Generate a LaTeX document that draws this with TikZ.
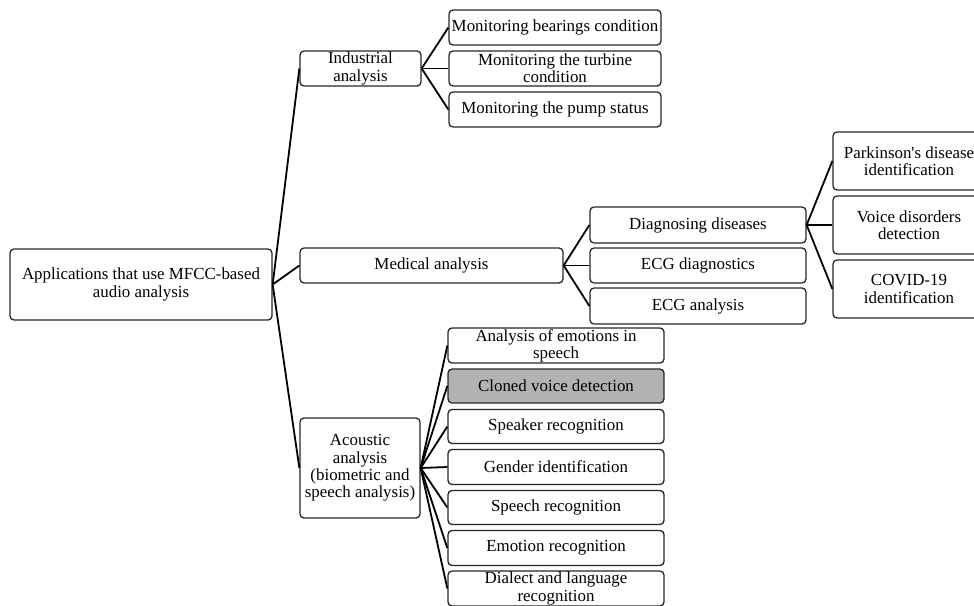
\documentclass[tikz,border=0pt]{standalone}
\usepackage{fontspec}
\setmainfont{Liberation Serif}
\begin{document}
\begin{tikzpicture}[x=1pt,y=-1pt,
  box/.style={draw=black!85,line width=1.3pt,rounded corners=4pt,fill=white,inner sep=0pt,align=center,font=\fontsize{16.9}{17.2}\selectfont},
  link/.style={draw=black,line width=1.8pt}]
\clip (0,0) rectangle (974,605);
% level 1
\node[box,minimum width=262pt,minimum height=71pt] (root) at (141,284.5) {Applications that use MFCC-based\\audio analysis};
% level 2
\node[box,minimum width=121pt,minimum height=35pt] (ind) at (360.5,68.5) {Industrial\\analysis};
\node[box,minimum width=263pt,minimum height=35pt] (med) at (431.5,265.5) {Medical analysis};
\node[box,minimum width=120pt,minimum height=100pt] (aco) at (360,468) {Acoustic\\analysis\\(biometric and\\speech analysis)};
% industrial children
\node[box,minimum width=212pt,minimum height=35pt] (i1) at (555,27.5) {Monitoring bearings condition};
\node[box,minimum width=212pt,minimum height=35pt] (i2) at (555,68.5) {Monitoring the turbine\\condition};
\node[box,minimum width=212pt,minimum height=35pt] (i3) at (555,109.5) {Monitoring the pump status};
% medical children
\node[box,minimum width=216pt,minimum height=36pt] (m1) at (698,225) {Diagnosing diseases};
\node[box,minimum width=216pt,minimum height=35pt] (m2) at (698,265.5) {ECG diagnostics};
\node[box,minimum width=216pt,minimum height=36pt] (m3) at (698,306) {ECG analysis};
% diseases children
\node[box,minimum width=152pt,minimum height=58pt] (d1) at (909,161) {Parkinson\textquotesingle s disease\\identification};
\node[box,minimum width=152pt,minimum height=58pt] (d2) at (909,225) {Voice disorders\\detection};
\node[box,minimum width=152pt,minimum height=58pt] (d3) at (909,289) {COVID-19\\identification};
% acoustic children
\node[box,minimum width=216pt,minimum height=35pt] (a1) at (556,345.5) {Analysis of emotions in\\speech};
\node[box,minimum width=216pt,minimum height=34pt,fill={rgb,255:red,178;green,178;blue,178}] (a2) at (556,386) {Cloned voice detection};
\node[box,minimum width=216pt,minimum height=34pt] (a3) at (556,426.5) {Speaker recognition};
\node[box,minimum width=216pt,minimum height=35pt] (a4) at (556,467) {Gender identification};
\node[box,minimum width=216pt,minimum height=34pt] (a5) at (556,507.5) {Speech recognition};
\node[box,minimum width=216pt,minimum height=35pt] (a6) at (556,548) {Emotion recognition};
\node[box,minimum width=216pt,minimum height=35pt] (a7) at (556,588.5) {Dialect and language\\recognition};
% connectors
\foreach \c in {ind,med,aco} \draw[link] (root.east) -- (\c.west);
\foreach \c in {i1,i2,i3} \draw[link] (ind.east) -- (\c.west);
\foreach \c in {m1,m2,m3} \draw[link] (med.east) -- (\c.west);
\foreach \c in {d1,d2,d3} \draw[link] (m1.east) -- (\c.west);
\foreach \c in {a1,a2,a3,a4,a5,a6,a7} \draw[link] (aco.east) -- (\c.west);
\end{tikzpicture}
\end{document}
